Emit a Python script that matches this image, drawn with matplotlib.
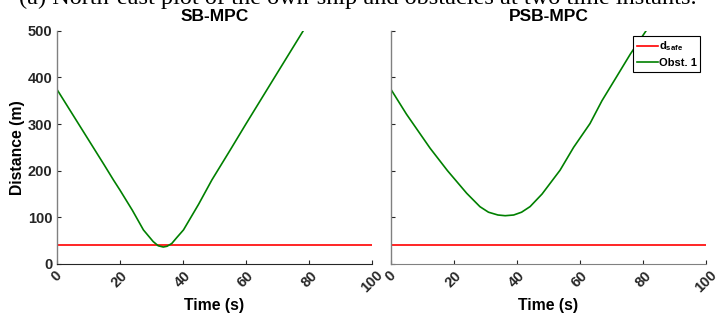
import matplotlib
matplotlib.use("Agg")
import matplotlib.pyplot as plt
from matplotlib.lines import Line2D

# distance to obstacle 1 over time, SB-MPC run
sb_time = [0, 5, 10, 15, 18, 20, 24, 27.5, 30.6, 32.2, 33.8, 35, 36.5, 38,
           40.2, 45, 49.2, 55, 60, 65, 70, 78.2]
sb_dist = [375, 321, 267, 213, 180, 159, 115, 73, 48, 39, 36.4, 38, 44, 56,
           73, 128, 180, 244, 300, 355, 410, 500]

# distance to obstacle 1 over time, PSB-MPC run
psb_time = [0, 5, 12.5, 18, 24.1, 28.3, 31, 34, 36.3, 39, 41.5, 44.2, 48,
            53.7, 58, 63.2, 67, 71.6, 76, 81.1]
psb_dist = [375, 321, 248, 200, 151.5, 122.8, 111, 105, 103.5, 105, 111,
            123, 150, 201, 250, 301, 350, 401, 450, 501]

# safety distance
safe_time = [0, 100]
safe_dist = [40, 40]

x_ticks = [0, 20, 40, 60, 80, 100]
y_ticks = [0, 100, 200, 300, 400, 500]

plt.rcParams["font.family"] = ["Liberation Sans", "DejaVu Sans"]
plt.rcParams["font.weight"] = "bold"
plt.rcParams["mathtext.fontset"] = "custom"
plt.rcParams["mathtext.rm"] = "Liberation Sans:bold"
plt.rcParams["mathtext.bf"] = "Liberation Sans:bold"

RED = "#ff0000"
GREEN = "#008000"
DARK = "#262626"
GREY = "#808080"

fig = plt.figure(figsize=(7.16, 3.21), dpi=100)

# caption of the page above, only its lower part falls inside the figure
fig.text(0.5, 1 - 4 / 321,
         "(a) North-east plot of the own-ship and obstacles at two time instants.",
         ha="center", va="baseline", fontsize=17.5, fontweight="normal",
         family=["Liberation Serif", "DejaVu Serif"], color="black")

ax_sb = fig.add_axes([0.0792, 0.1776, 0.4404, 0.7268])
ax_psb = fig.add_axes([0.5457, 0.1776, 0.4404, 0.7268])

for ax, t, d, title in [(ax_sb, sb_time, sb_dist, "SB-MPC"),
                        (ax_psb, psb_time, psb_dist, "PSB-MPC")]:
    ax.plot(safe_time, safe_dist, color=RED, lw=1.2)
    ax.plot(t, d, color=GREEN, lw=1.2)
    ax.set_xlim(0, 100)
    ax.set_ylim(0, 500)
    ax.set_xticks(x_ticks)
    ax.set_yticks(y_ticks)
    ax.set_xticklabels([str(v) for v in x_ticks], rotation=45,
                       ha="center", va="top", fontsize=10.5, fontweight="bold")
    ax.tick_params(direction="in", length=3, width=0.8, colors=DARK,
                   labelsize=10.5, pad=3)
    ax.spines["top"].set_visible(False)
    ax.spines["right"].set_visible(False)
    ax.spines["left"].set_color(GREY)
    ax.spines["left"].set_linewidth(1.0)
    ax.set_title(title, fontsize=12.5, fontweight="bold", pad=7)
    ax.set_xlabel("Time (s)", fontsize=11.3, fontweight="bold", labelpad=2)

ax_sb.spines["bottom"].set_color(DARK)
ax_psb.spines["bottom"].set_color(GREY)
ax_sb.set_yticklabels([str(v) for v in y_ticks], fontweight="bold")
ax_psb.set_yticklabels([])
ax_sb.set_ylabel("Distance (m)", fontsize=11.3, fontweight="bold", labelpad=2)

handles = [Line2D([], [], color=RED, lw=1.2), Line2D([], [], color=GREEN, lw=1.2)]
leg = ax_psb.legend(handles, [r"$\mathbf{d_{safe}}$", "Obst. 1"],
                    loc="upper right", frameon=True, fancybox=False,
                    framealpha=1, edgecolor="black", borderaxespad=0.5,
                    handlelength=1.9, handletextpad=0.15, borderpad=0.3,
                    labelspacing=0.45, prop={"weight": "bold", "size": 8})
leg.get_frame().set_linewidth(0.8)

fig.savefig("out.png", dpi=100)
